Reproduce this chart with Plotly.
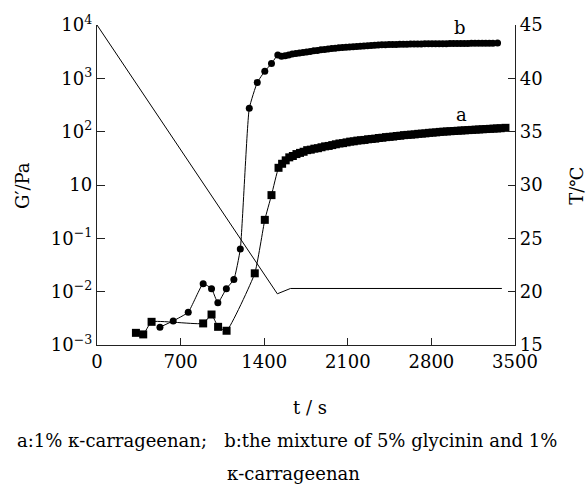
import plotly.graph_objects as go

# ---- data ----
# Curve a: 1% kappa-carrageenan (squares)
t_a = [326, 387, 457, 889, 959, 1014, 1085, 1321, 1405, 1461,
       1520, 1550, 1580, 1610, 1640, 1670, 1700, 1730, 1760, 1790,
       1820, 1850, 1880, 1910, 1940, 1970, 2000, 2030, 2060, 2090,
       2120, 2150, 2180, 2210, 2240, 2270, 2300, 2330, 2360, 2390,
       2420, 2450, 2480, 2510, 2540, 2570, 2600, 2630, 2660, 2690,
       2720, 2750, 2780, 2810, 2840, 2870, 2900, 2930, 2960, 2990,
       3020, 3050, 3080, 3110, 3140, 3170, 3200, 3230, 3260, 3290,
       3320, 3350, 3380, 3420]
g_a = [0.0169, 0.0158, 0.0272, 0.0254, 0.0373, 0.0219, 0.0185, 0.221, 2.22, 6.46,
       21, 25, 29, 33, 35, 38, 40, 42, 45, 46,
       48, 49, 51, 53, 54, 56, 58, 60, 61, 63,
       65, 66, 68, 69, 70, 72, 73, 74, 76, 77,
       79, 80, 81, 83, 84, 86, 87, 88, 89, 91,
       92, 93, 95, 96, 97, 99, 100, 101, 102, 103,
       104, 105, 106, 107, 108, 109, 110, 111, 112, 113,
       114, 115, 116, 118]

# Curve b: 5% glycinin + 1% kappa-carrageenan (circles)
t_b = [527, 638, 764, 889, 959, 1012, 1083, 1146, 1200, 1275, 1342, 1405, 1461,
       1514, 1545, 1575, 1605, 1635, 1665, 1695, 1725, 1755, 1785,
       1815, 1845, 1875, 1905, 1935, 1965, 1995, 2025, 2055, 2085,
       2115, 2145, 2175, 2205, 2235, 2265, 2295, 2325, 2355, 2385,
       2415, 2445, 2475, 2505, 2535, 2565, 2595, 2625, 2655, 2685,
       2715, 2745, 2775, 2805, 2835, 2865, 2895, 2925, 2955, 2985,
       3015, 3045, 3075, 3105, 3135, 3165, 3195, 3225, 3255, 3285,
       3315, 3354]
g_b = [0.0216, 0.0283, 0.0412, 0.141, 0.114, 0.0618, 0.114, 0.169, 0.63, 274, 836, 1362, 1890,
       2740, 2600, 2650, 2750, 2850, 2920, 2980, 3050, 3130, 3200,
       3280, 3340, 3420, 3480, 3550, 3610, 3670, 3730, 3780, 3830,
       3880, 3920, 3960, 4000, 4040, 4080, 4120, 4160, 4200, 4240,
       4270, 4290, 4310, 4330, 4345, 4360, 4375, 4390, 4400, 4410,
       4420, 4430, 4440, 4445, 4450, 4455, 4460, 4470, 4480, 4490,
       4500, 4505, 4510, 4520, 4530, 4535, 4540, 4550, 4560, 4565,
       4570, 4580]

# Temperature program
t_T = [0, 1510, 1620, 3390]
temp = [45, 19.8, 20.3, 20.3]

# Axis ticks
x_ticks = [0, 700, 1400, 2100, 2800, 3500]
y_tickvals = [0.01, 0.1, 1, 10, 100, 1000, 10000]
y_ticktext = ["10<sup>−3</sup>", "10<sup>−2</sup>", "10<sup>−1</sup>", "10",
              "10<sup>2</sup>", "10<sup>3</sup>", "10<sup>4</sup>"]
T_ticks = [15, 20, 25, 30, 35, 40, 45]

FONT = "DejaVu Serif"
FS = 18

fig = go.Figure()
fig.add_trace(go.Scatter(
    x=t_a, y=g_a, mode="lines+markers",
    line=dict(color="black", width=1, shape="spline", smoothing=0.4),
    marker=dict(symbol="square", size=8, color="black"),
    showlegend=False))
fig.add_trace(go.Scatter(
    x=t_b, y=g_b, mode="lines+markers",
    line=dict(color="black", width=1, shape="spline", smoothing=0.4),
    marker=dict(symbol="circle", size=7, color="black"),
    showlegend=False))
fig.add_trace(go.Scatter(
    x=t_T, y=temp, mode="lines", yaxis="y2",
    line=dict(color="black", width=1),
    showlegend=False))

axis_common = dict(showline=True, linecolor="#222", linewidth=1.3,
                   ticks="inside", tickcolor="#222", showgrid=False,
                   zeroline=False, tickfont=dict(family=FONT, size=FS, color="black"))


def note(text, x, y, xref="paper", yref="paper", angle=0, size=FS):
    return dict(text=text, x=x, y=y, xref=xref, yref=yref, textangle=angle,
                xanchor="center", yanchor="middle", showarrow=False,
                font=dict(family=FONT, size=size, color="black"))


fig.update_layout(
    width=586, height=492,
    margin=dict(l=97, r=71, t=23, b=147),
    paper_bgcolor="white", plot_bgcolor="white",
    font=dict(family=FONT, size=FS, color="black"),
    xaxis=dict(range=[0, 3500], tickvals=x_ticks, ticklen=7, **axis_common),
    yaxis=dict(type="log", range=[-2, 4], tickvals=y_tickvals, ticktext=y_ticktext,
               ticklen=8, **axis_common),
    yaxis2=dict(range=[15, 45], tickvals=T_ticks, overlaying="y", side="right",
                ticklen=7, **axis_common),
    annotations=[
        note("t / s", 0.51, -0.196),
        note("G′/Pa", -0.177, 0.497, angle=-90),
        note("T/℃", 1.148, 0.497, angle=-90),
        note("a:1% κ-carrageenan;   b:the mixture of 5% glycinin and 1%", 0.4545, -0.297),
        note("κ-carrageenan", 0.469, -0.4),
        note("b", 3036, 3.96, "x", "y"),
        note("a", 3050, 2.33, "x", "y"),
    ],
)

fig.write_html("out.html")
